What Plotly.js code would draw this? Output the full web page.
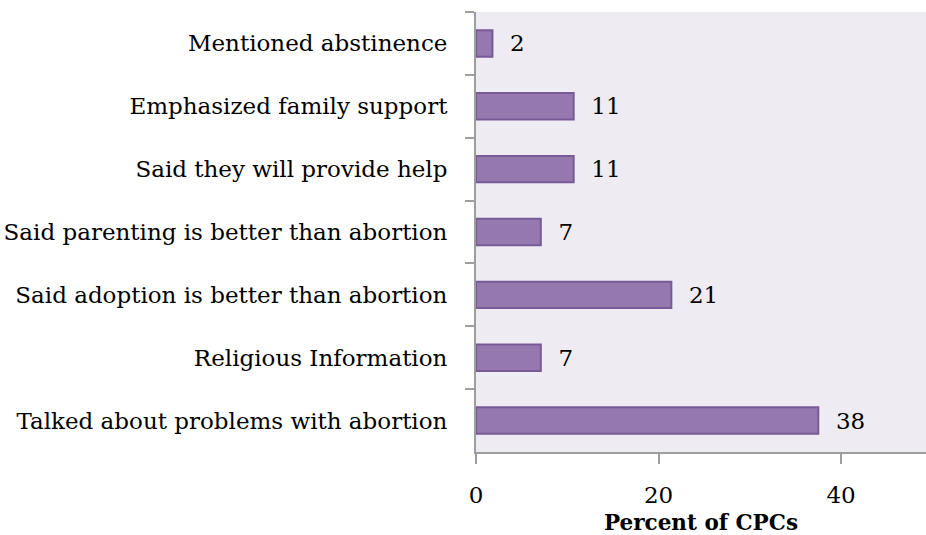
<!DOCTYPE html>
<html>
<head>
<meta charset="utf-8">
<script src="https://cdn.plot.ly/plotly-3.0.1.min.js"></script>
<style>html,body{margin:0;padding:0;background:#fff;}#chart{width:926px;height:535px;}</style>
</head>
<body>
<div id="chart"></div>
<script>
const categories = [
  "Mentioned abstinence",
  "Emphasized family support",
  "Said they will provide help",
  "Said parenting is better than abortion",
  "Said adoption is better than abortion",
  "Religious Information",
  "Talked about problems with abortion"
];
const percentValues = [1.8, 10.7, 10.7, 7.1, 21.4, 7.1, 37.5];
const valueLabels = ["2", "11", "11", "7", "21", "7", "38"];
const xTickValues = [0, 20, 40];
const xTickLabels = ["0", "20", "40"];

const FONT = "DejaVu Serif, serif";

const trace = {
  type: "bar",
  orientation: "h",
  y: categories,
  x: percentValues,
  text: valueLabels.map(s => "\u00a0\u00a0" + s),
  textposition: "outside",
  cliponaxis: false,
  textfont: {family: FONT, size: 23, color: "#000"},
  hoverinfo: "none",
  marker: {color: "#9579AE", line: {color: "#785A96", width: 2}},
  width: 0.42
};

const layout = {
  width: 926, height: 535,
  margin: {l: 476, r: 0, t: 12, b: 83},
  paper_bgcolor: "#FFFFFF",
  plot_bgcolor: "#EEEBF2",
  showlegend: false,
  font: {family: FONT, size: 23, color: "#000"},
  xaxis: {
    range: [0, 49.3],
    tickvals: xTickValues,
    ticktext: xTickLabels,
    ticks: "outside", ticklen: 10, tickwidth: 2, tickcolor: "#9E9E9E",
    showline: true, linecolor: "#9E9E9E", linewidth: 2,
    showgrid: false, zeroline: false,
    ticklabelstandoff: 11,
    tickfont: {family: FONT, size: 23, color: "#000"},
    title: {text: "<b>Percent of CPCs</b>", font: {family: FONT, size: 21.5, color: "#000"}, standoff: 14}
  },
  yaxis: {
    type: "category",
    autorange: "reversed",
    ticks: "outside", tickson: "boundaries", ticklen: 9, tickwidth: 2, tickcolor: "#9E9E9E",
    showline: true, linecolor: "#9E9E9E", linewidth: 2,
    showgrid: false, zeroline: false,
    ticklabelstandoff: 22,
    tickfont: {family: FONT, size: 23, color: "#000"}
  }
};

Plotly.newPlot("chart", [trace], layout, {displayModeBar: false, staticPlot: true});
</script>
</body>
</html>
